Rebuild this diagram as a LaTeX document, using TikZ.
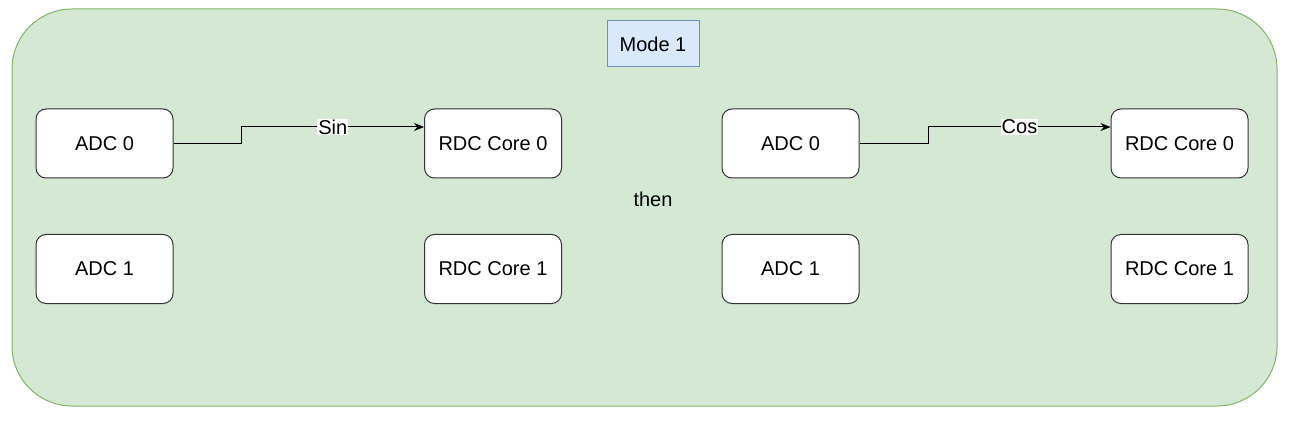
\documentclass[tikz,border=0pt]{standalone}
\usepackage{fontspec}
\setmainfont{Liberation Sans}
\usetikzlibrary{arrows.meta}
\definecolor{modefill}{HTML}{D5E8D4}
\definecolor{modeline}{HTML}{82B366}
\definecolor{titlefill}{HTML}{DAE8FC}
\definecolor{titleline}{HTML}{6C8EBF}

\begin{document}
\begin{tikzpicture}[
  x=1pt, y=-1pt,
  every node/.style={font=\fontsize{20}{24}\selectfont},
  block/.style={draw=black!80, fill=white, rounded corners=10pt, line width=1pt,
    minimum width=137pt, minimum height=69pt, inner sep=0pt},
  title/.style={draw=titleline, fill=titlefill, line width=1pt,
    minimum width=92pt, minimum height=46pt, inner sep=0pt},
  wire/.style={draw, line width=1pt, -{Stealth[length=10pt,width=8pt]}},
  tag/.style={fill=white, inner sep=1pt}
  ]
  \useasboundingbox (0,0) rectangle (1304,422);
  \draw[fill=modefill, draw=modeline, line width=1pt, rounded corners=60pt]
    (12,9) rectangle (1277,406);
  \node[title] (mode) at (653,44) {Mode 1};
  \node (then) at (653,199) {then};

  % first step
  \node[block] (adcA0) at (104.5,143.5) {ADC 0};
  \node[block] (adcA1) at (104.5,269) {ADC 1};
  \node[block] (rdcA0) at (493,143.5) {RDC Core 0};
  \node[block] (rdcA1) at (493,269) {RDC Core 1};

  % second step
  \node[block] (adcB0) at (790.5,143.5) {ADC 0};
  \node[block] (adcB1) at (790.5,269) {ADC 1};
  \node[block] (rdcB0) at (1179.5,143.5) {RDC Core 0};
  \node[block] (rdcB1) at (1179.5,269) {RDC Core 1};

  \draw[wire] (adcA0.east) -- ++(68,0) |- node[tag, pos=0.75] {Sin} ([yshift=16.5pt]rdcA0.west);
  \draw[wire] (adcB0.east) -- ++(69,0) |- node[tag, pos=0.75] {Cos} ([yshift=16.5pt]rdcB0.west);
\end{tikzpicture}
\end{document}
